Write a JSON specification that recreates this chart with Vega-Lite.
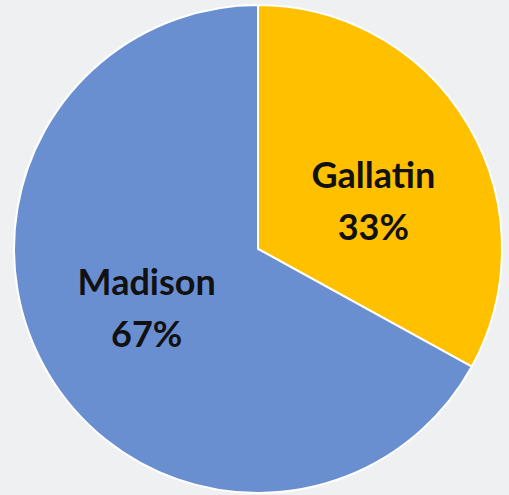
{
  "$schema": "https://vega.github.io/schema/vega-lite/v6.json",
  "width": 502,
  "height": 492,
  "autosize": {"type": "none"},
  "padding": {"left": 7, "top": 3, "right": 0, "bottom": 0},
  "background": "#eff0f2",
  "config": {"view": {"stroke": null}},
  "data": {
    "values": [
      {"county": "Gallatin", "share": 33, "label": "Gallatin\n33%", "ord": 1},
      {"county": "Madison", "share": 67, "label": "Madison\n67%", "ord": 2}
    ]
  },
  "encoding": {
    "theta": {"field": "share", "type": "quantitative", "stack": true},
    "order": {"field": "ord", "type": "quantitative"}
  },
  "layer": [
    {
      "mark": {"type": "arc", "outerRadius": 244, "stroke": "#ffffff", "strokeWidth": 2},
      "encoding": {
        "color": {
          "field": "county",
          "type": "nominal",
          "scale": {"domain": ["Gallatin", "Madison"], "range": ["#ffc000", "#6a8fd0"]},
          "legend": null
        }
      }
    },
    {
      "mark": {
        "type": "text",
        "radius": 127,
        "font": "Lato",
        "fontWeight": "bold",
        "fontSize": 36,
        "lineBreak": "\n",
        "lineHeight": 52,
        "align": "center",
        "baseline": "middle",
        "color": "#111111",
        "dx": {"expr": "datum.county == 'Gallatin' ? 6 : -2"},
        "dy": {"expr": "datum.county == 'Gallatin' ? -7 : -29.5"}
      },
      "encoding": {"text": {"field": "label"}}
    }
  ]
}
